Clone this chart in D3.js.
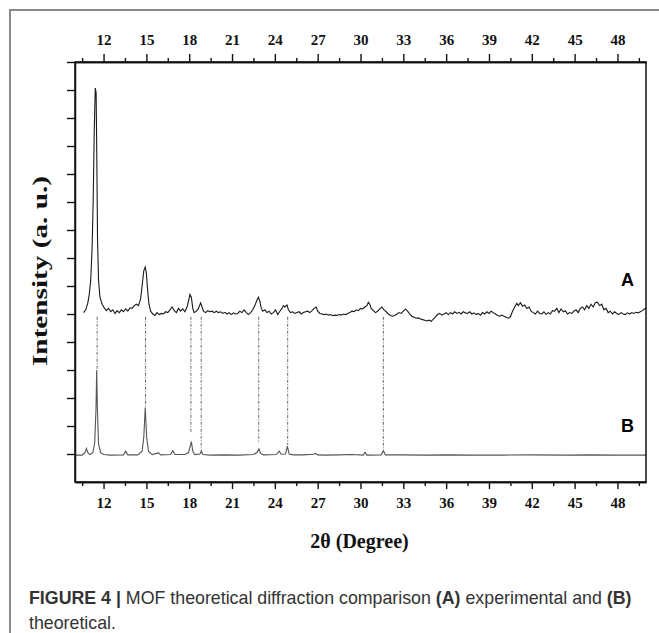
<!DOCTYPE html>
<html>
<head>
<meta charset="utf-8">
<script src="https://cdn.jsdelivr.net/npm/d3@7"></script>
<style>
  body { margin: 0; background: #fff; }
  svg { display: block; }
</style>
</head>
<body>
<div class="chart-wrapper"></div>
<script>
// experimental pattern (A): [2theta, intensity a.u.]
const traceA = [
  [10.60, 6.05], [10.75, 6.15], [10.90, 6.40], [11.00, 6.70], [11.10, 7.20], [11.20, 8.40],
  [11.28, 10.20], [11.35, 12.60], [11.42, 14.07], [11.48, 13.90], [11.53, 11.50], [11.58, 8.60],
  [11.65, 7.20], [11.75, 6.60], [11.90, 6.35], [12.05, 6.22], [12.20, 6.12], [12.35, 6.20],
  [12.50, 6.08], [12.65, 6.15], [12.80, 6.02], [12.95, 6.12], [13.10, 6.05], [13.25, 6.15],
  [13.40, 6.08], [13.55, 6.18], [13.70, 6.10], [13.85, 6.22], [14.00, 6.20], [14.15, 6.30],
  [14.30, 6.35], [14.45, 6.30], [14.60, 6.55], [14.72, 7.10], [14.82, 7.55], [14.92, 7.68],
  [15.00, 7.45], [15.08, 6.90], [15.18, 6.35], [15.30, 6.10], [15.45, 6.00], [15.60, 5.95],
  [15.75, 6.05], [15.90, 5.98], [16.05, 6.02], [16.20, 6.00], [16.35, 6.08], [16.50, 6.05],
  [16.65, 6.15], [16.80, 6.25], [16.95, 6.12], [17.10, 6.05], [17.25, 6.20], [17.40, 6.10],
  [17.55, 6.18], [17.70, 6.08], [17.85, 6.25], [17.95, 6.45], [18.05, 6.70], [18.15, 6.60],
  [18.25, 6.20], [18.35, 6.05], [18.50, 6.10], [18.65, 6.20], [18.80, 6.40], [18.90, 6.25],
  [19.00, 6.10], [19.15, 6.05], [19.30, 6.12], [19.45, 6.08], [19.60, 6.10], [19.75, 6.05],
  [19.90, 6.10], [20.05, 6.05], [20.20, 6.08], [20.35, 6.02], [20.50, 6.06], [20.65, 6.00],
  [20.80, 6.05], [20.95, 5.98], [21.10, 6.04], [21.25, 6.00], [21.40, 6.02], [21.55, 6.10],
  [21.70, 6.05], [21.85, 6.15], [22.00, 6.05], [22.15, 5.98], [22.30, 6.05], [22.45, 6.15],
  [22.60, 6.30], [22.75, 6.50], [22.85, 6.60], [22.95, 6.45], [23.05, 6.20], [23.15, 6.10],
  [23.30, 6.15], [23.45, 6.05], [23.60, 6.10], [23.75, 6.00], [23.90, 6.05], [24.05, 6.15],
  [24.20, 5.98], [24.35, 6.10], [24.50, 6.20], [24.60, 6.30], [24.70, 6.25], [24.85, 6.32],
  [24.95, 6.15], [25.10, 6.05], [25.25, 6.08], [25.40, 6.02], [25.55, 6.05], [25.70, 6.08],
  [25.85, 6.00], [26.00, 6.05], [26.15, 6.08], [26.30, 6.10], [26.45, 6.05], [26.60, 6.12],
  [26.75, 6.20], [26.90, 6.25], [27.00, 6.10], [27.15, 6.02], [27.30, 6.00], [27.45, 5.98],
  [27.60, 6.00], [27.75, 5.96], [27.90, 5.98], [28.05, 5.94], [28.20, 5.96], [28.35, 5.95],
  [28.50, 5.98], [28.65, 5.96], [28.80, 6.00], [28.95, 5.98], [29.10, 6.02], [29.25, 6.05],
  [29.40, 6.10], [29.55, 6.08], [29.70, 6.15], [29.85, 6.12], [30.00, 6.20], [30.15, 6.18],
  [30.30, 6.25], [30.45, 6.30], [30.55, 6.42], [30.65, 6.35], [30.75, 6.20], [30.90, 6.12],
  [31.05, 6.05], [31.20, 6.10], [31.35, 6.18], [31.50, 6.25], [31.65, 6.15], [31.80, 6.08],
  [31.95, 6.00], [32.10, 5.95], [32.25, 5.92], [32.40, 5.95], [32.55, 6.00], [32.70, 6.05],
  [32.85, 6.02], [33.00, 6.10], [33.15, 6.18], [33.30, 6.10], [33.45, 6.00], [33.60, 5.92],
  [33.75, 5.88], [33.90, 5.85], [34.05, 5.86], [34.20, 5.82], [34.35, 5.80], [34.50, 5.78],
  [34.65, 5.75], [34.80, 5.78], [34.95, 5.74], [35.10, 5.82], [35.25, 5.90], [35.40, 5.98],
  [35.55, 6.02], [35.70, 5.96], [35.85, 6.00], [36.00, 6.05], [36.15, 5.98], [36.30, 6.05],
  [36.45, 6.00], [36.60, 6.08], [36.75, 6.02], [36.90, 6.06], [37.05, 6.00], [37.20, 6.08],
  [37.35, 6.04], [37.50, 6.02], [37.65, 6.08], [37.80, 6.00], [37.95, 6.04], [38.10, 5.98],
  [38.25, 6.02], [38.40, 5.96], [38.55, 6.05], [38.70, 6.00], [38.85, 6.08], [39.00, 6.02],
  [39.15, 6.10], [39.30, 6.05], [39.45, 6.00], [39.60, 5.95], [39.75, 5.92], [39.90, 5.96],
  [40.05, 5.92], [40.20, 5.88], [40.35, 5.85], [40.50, 5.90], [40.65, 6.10], [40.80, 6.25],
  [40.95, 6.38], [41.05, 6.30], [41.20, 6.40], [41.35, 6.28], [41.50, 6.32], [41.65, 6.20],
  [41.80, 6.25], [41.95, 6.10], [42.10, 6.05], [42.25, 6.00], [42.40, 6.10], [42.55, 6.02],
  [42.70, 6.00], [42.85, 6.08], [43.00, 5.98], [43.15, 6.05], [43.30, 6.00], [43.45, 6.12],
  [43.60, 6.10], [43.75, 6.20], [43.90, 6.05], [44.05, 6.18], [44.20, 6.08], [44.35, 6.12],
  [44.50, 6.00], [44.65, 6.05], [44.80, 6.02], [44.95, 6.10], [45.10, 6.15], [45.25, 6.05],
  [45.40, 6.20], [45.55, 6.25], [45.70, 6.15], [45.85, 6.30], [46.00, 6.20], [46.15, 6.35],
  [46.30, 6.25], [46.45, 6.40], [46.60, 6.42], [46.75, 6.30], [46.90, 6.35], [47.05, 6.15],
  [47.20, 6.20], [47.35, 6.05], [47.50, 6.10], [47.65, 6.00], [47.80, 6.08], [47.95, 6.02],
  [48.10, 5.98], [48.25, 6.05], [48.40, 6.00], [48.55, 5.98], [48.70, 6.04], [48.85, 6.00],
  [49.00, 6.05], [49.15, 6.02], [49.30, 6.06], [49.45, 6.04], [49.60, 6.08], [49.75, 6.12],
  [49.90, 6.18], [50.00, 6.22]
];

// theoretical pattern (B)
const traceB = [
  [10.00, 0.96], [10.50, 0.96], [10.70, 1.05], [10.80, 1.20], [10.90, 1.05], [11.05, 0.98],
  [11.25, 1.05], [11.38, 1.40], [11.47, 2.60], [11.52, 4.00], [11.57, 2.60], [11.65, 1.35],
  [11.80, 1.05], [12.00, 0.98], [12.50, 0.96], [13.40, 0.97], [13.55, 1.10], [13.70, 0.97],
  [14.40, 0.97], [14.70, 1.10], [14.82, 1.60], [14.92, 2.66], [15.02, 1.60], [15.15, 1.10],
  [15.40, 0.98], [15.85, 1.04], [16.00, 0.97], [16.70, 0.98], [16.85, 1.12], [17.00, 0.98],
  [17.70, 0.98], [17.95, 1.05], [18.08, 1.30], [18.15, 1.44], [18.25, 1.10], [18.40, 0.98],
  [18.75, 1.00], [18.85, 1.10], [18.95, 0.98], [19.50, 0.96], [20.50, 0.97], [21.50, 0.96],
  [22.50, 0.98], [22.75, 1.05], [22.88, 1.18], [23.00, 1.02], [23.20, 0.97], [24.10, 0.98],
  [24.30, 1.10], [24.45, 0.99], [24.75, 1.00], [24.88, 1.28], [25.00, 1.00], [25.30, 0.97],
  [26.00, 0.97], [26.70, 0.99], [26.85, 1.02], [27.00, 0.97], [27.50, 0.96], [28.50, 0.97],
  [29.40, 0.98], [30.20, 0.96], [30.32, 1.06], [30.45, 0.96], [31.45, 0.97], [31.60, 1.12],
  [31.75, 0.97], [33.00, 0.97], [34.50, 0.96], [36.00, 0.97], [38.00, 0.96], [40.00, 0.96],
  [42.00, 0.97], [44.50, 0.96], [46.00, 0.97], [48.00, 0.96], [50.00, 0.96]
];

// dashed guides: [2theta, top, bottom]
const guides = [
  [11.55, 5.90, 4.00], [14.94, 5.90, 2.66], [18.12, 5.90, 1.75], [18.84, 5.90, 1.10],
  [22.87, 5.90, 1.39], [24.90, 5.90, 1.32], [31.60, 5.90, 1.14]
];

const xMajor = [12, 15, 18, 21, 24, 27, 30, 33, 36, 39, 42, 45, 48];
const xMinor = [10.5, 13.5, 16.5, 19.5, 22.5, 25.5, 28.5, 31.5, 34.5, 37.5, 40.5, 43.5, 46.5, 49.5];
const yTicks = [1, 2, 3, 4, 5, 6, 7, 8, 9, 10, 11, 12, 13, 14, 15];

const width = 659;
const height = 633;
const margin = { top: 62, right: 13, bottom: 151, left: 75 };
const innerW = width - margin.left - margin.right;
const innerH = height - margin.top - margin.bottom;

let svg = d3.select('.chart-wrapper').append('svg')
    .attr('width', width)
    .attr('height', height);

// outer figure frame
svg.append('path')
    .attr('d', `M10,${height} V10 H${width}`)
    .attr('fill', 'none')
    .attr('stroke', '#8a8a8a')
    .attr('stroke-width', 2);

let x = d3.scaleLinear().domain([10, 50]).range([0, innerW]);
let y = d3.scaleLinear().domain([0, 15]).range([innerH, 0]);

let plot = svg.append('g')
    .attr('transform', `translate(${margin.left}, ${margin.top})`);

// dashed guides
plot.append('g')
    .selectAll('line')
    .data(guides)
    .enter()
    .append('line')
    .attr('x1', (d) => x(d[0]))
    .attr('x2', (d) => x(d[0]))
    .attr('y1', (d) => y(d[1]))
    .attr('y2', (d) => y(d[2]))
    .attr('stroke', '#555')
    .attr('stroke-width', 0.9)
    .attr('stroke-dasharray', '3,1.5,1,1.5');

let line = d3.line()
    .x((d) => x(d[0]))
    .y((d) => y(d[1]));

plot.append('path')
    .datum(traceB)
    .attr('d', line)
    .attr('fill', 'none')
    .attr('stroke', '#555')
    .attr('stroke-width', 1.1);

plot.append('path')
    .datum(traceA)
    .attr('d', line)
    .attr('fill', 'none')
    .attr('stroke', '#1a1a1a')
    .attr('stroke-width', 1.1);

// frame
plot.append('rect')
    .attr('width', innerW)
    .attr('height', innerH)
    .attr('fill', 'none')
    .attr('stroke', '#111')
    .attr('stroke-width', 1.5);

function styleAxis(g) {
    g.select('.domain').attr('stroke', '#111').attr('stroke-width', 1.5);
    g.selectAll('.tick line').attr('stroke', '#111').attr('stroke-width', 1.4);
    g.selectAll('text')
        .attr('font-family', '"Liberation Serif", "Times New Roman", serif')
        .attr('font-weight', 'bold')
        .attr('font-size', 15)
        .attr('fill', '#111');
}

let topAxis = plot.append('g')
    .call(d3.axisTop(x).tickValues(xMajor).tickSize(8).tickSizeOuter(0).tickPadding(9));
styleAxis(topAxis);
plot.append('g')
    .call(d3.axisTop(x).tickValues(xMinor).tickSize(4).tickSizeOuter(0).tickFormat(''))
    .call(styleAxis);

let bottomAxis = plot.append('g')
    .attr('transform', `translate(0, ${innerH})`)
    .call(d3.axisBottom(x).tickValues(xMajor).tickSize(7).tickSizeOuter(0).tickPadding(8));
styleAxis(bottomAxis);
plot.append('g')
    .attr('transform', `translate(0, ${innerH})`)
    .call(d3.axisBottom(x).tickValues(xMinor).tickSize(4).tickSizeOuter(0).tickFormat(''))
    .call(styleAxis);

plot.append('g')
    .call(d3.axisLeft(y).tickValues(yTicks).tickSize(8).tickSizeOuter(0).tickFormat(''))
    .call(styleAxis);

// series labels
plot.append('text')
    .attr('x', x(48.7))
    .attr('y', y(7.0))
    .attr('text-anchor', 'middle')
    .attr('font-family', '"Liberation Sans", Arial, sans-serif')
    .attr('font-weight', 'bold')
    .attr('font-size', 18)
    .text('A');

plot.append('text')
    .attr('x', x(48.7))
    .attr('y', y(1.8))
    .attr('text-anchor', 'middle')
    .attr('font-family', '"Liberation Sans", Arial, sans-serif')
    .attr('font-weight', 'bold')
    .attr('font-size', 18)
    .text('B');

// axis titles
svg.append('text')
    .attr('transform', `translate(47, ${margin.top + innerH / 2 - 1}) rotate(-90)`)
    .attr('text-anchor', 'middle')
    .attr('font-family', '"Liberation Serif", "Times New Roman", serif')
    .attr('font-weight', 'bold')
    .attr('font-size', 21)
    .attr('textLength', 190)
    .attr('lengthAdjust', 'spacingAndGlyphs')
    .attr('fill', '#111')
    .text('Intensity (a. u.)');

svg.append('text')
    .attr('x', margin.left + innerW / 2 - 1)
    .attr('y', 548)
    .attr('text-anchor', 'middle')
    .attr('font-family', '"Liberation Serif", "Times New Roman", serif')
    .attr('font-weight', 'bold')
    .attr('font-size', 20)
    .attr('fill', '#111')
    .text('2θ (Degree)');

// caption
let caption = svg.append('text')
    .attr('font-family', '"Liberation Sans", Arial, sans-serif')
    .attr('font-size', 17.8)
    .attr('fill', '#333');

let line1 = caption.append('tspan').attr('x', 29).attr('y', 604);
line1.append('tspan').attr('font-weight', 'bold').text('FIGURE 4 | ');
line1.append('tspan').text('MOF theoretical diffraction comparison ');
line1.append('tspan').attr('font-weight', 'bold').text('(A)');
line1.append('tspan').text(' experimental and ');
line1.append('tspan').attr('font-weight', 'bold').text('(B)');
caption.append('tspan').attr('x', 29).attr('y', 629).text('theoretical.');
</script>
</body>
</html>
